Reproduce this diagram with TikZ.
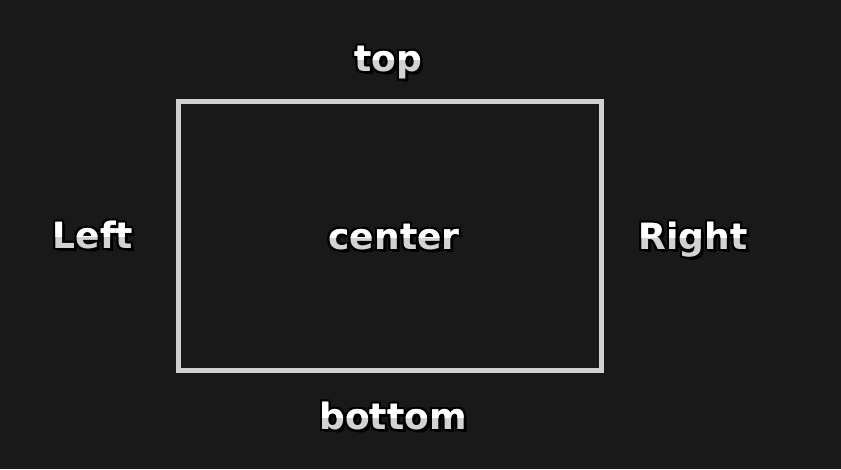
\documentclass[tikz,border=0pt]{standalone}
\usepackage{fontspec}
\setmainfont{DejaVu Sans}
\definecolor{bgdark}{HTML}{191919}
\definecolor{framegray}{HTML}{D0D0D0}
\definecolor{lowgray}{HTML}{D2D2D2}
\tikzset{
  lbl/.style={font=\bfseries\fontsize{36}{40}\selectfont, anchor=base, inner sep=0pt},
  frame/.style={draw=framegray, line width=5pt},
}
\begin{document}
\begin{tikzpicture}[x=1pt,y=-1pt]
	\fill[bgdark] (0,0) rectangle (841,469);
	\useasboundingbox (0,0) rectangle (841,469);
	\draw[frame] (178.5,101) rectangle (601.5,370.5);
	% labels: dark outline, gray lower half, white upper half
	\foreach \nm/\tx/\px/\py in {lbltop/top/388/71, lblleft/Left/93/248, lblcenter/center/394/249, lblright/Right/693/249, lblbottom/bottom/393/429}{
		\foreach \dx/\dy in {-2/-2,0/-2,2/-2,-2/0,2/0,-2/2,0/2,2/2,3/3}
			\node[lbl,text=black] at (\px+\dx,\py+\dy) {\tx};
		\node[lbl,text=lowgray] (\nm) at (\px,\py) {\tx};
		\begin{scope}
			\clip (\px-100,\py-60) rectangle (\px+100,\py-12);
			\node[lbl,text=white] at (\px,\py) {\tx};
		\end{scope}
	}
\end{tikzpicture}
\end{document}
